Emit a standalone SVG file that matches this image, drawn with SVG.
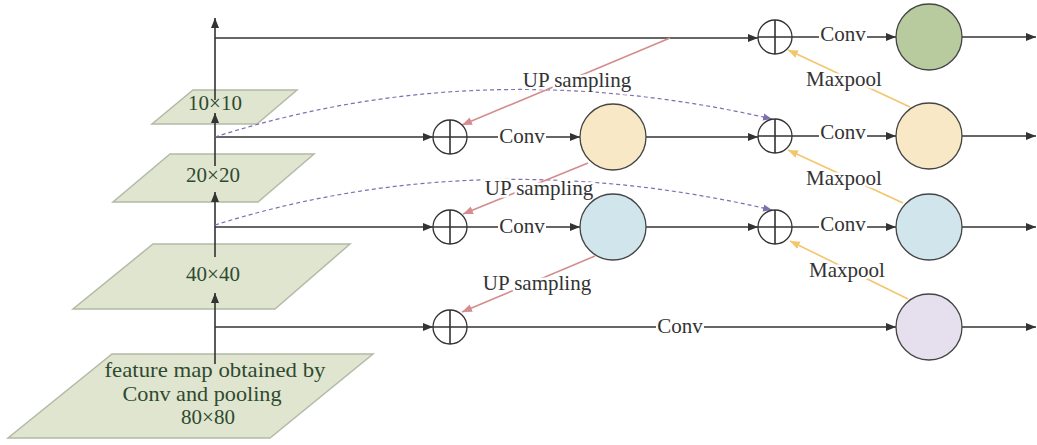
<svg xmlns="http://www.w3.org/2000/svg" width="1037" height="445" viewBox="0 0 1037 445">
<defs>
<style>
.pg{fill:#dfe5cf;stroke:#b3baa6;stroke-width:1.5}
.pt{font-family:"Liberation Serif",serif;font-size:21px;fill:#2f4a2f;text-anchor:middle}
.lb{font-family:"Liberation Serif",serif;font-size:21px;fill:#333;text-anchor:middle;stroke:#fff;stroke-width:5;paint-order:stroke;stroke-linejoin:round}
.cv{font-family:"Liberation Serif",serif;font-size:21px;fill:#333;text-anchor:middle}
.bg{fill:#fff}
.ln{stroke:#333;stroke-width:1.6;fill:none}
.up{stroke:#d48c8c;stroke-width:1.6;fill:none}
.mp{stroke:#f3c66e;stroke-width:1.6;fill:none}
.da{stroke:#7f6fb0;stroke-width:1.2;fill:none;stroke-dasharray:4 3}
.sum{fill:#fff;stroke:#333;stroke-width:1.3}
.nd{stroke:#444;stroke-width:1.3}
</style>
<marker id="ab" viewBox="0 0 10 10" refX="10" refY="5" markerWidth="10" markerHeight="10" markerUnits="userSpaceOnUse" orient="auto"><path d="M0,1 L10,5 L0,9 z" fill="#333"/></marker>
<marker id="ar" viewBox="0 0 10 10" refX="10" refY="5" markerWidth="10" markerHeight="10" markerUnits="userSpaceOnUse" orient="auto"><path d="M0,1 L10,5 L0,9 z" fill="#d48c8c"/></marker>
<marker id="ao" viewBox="0 0 10 10" refX="10" refY="5" markerWidth="10" markerHeight="10" markerUnits="userSpaceOnUse" orient="auto"><path d="M0,1 L10,5 L0,9 z" fill="#f3c66e"/></marker>
<marker id="ap" viewBox="0 0 10 10" refX="10" refY="5" markerWidth="9" markerHeight="9" markerUnits="userSpaceOnUse" orient="auto"><path d="M0,1 L10,5 L0,9 z" fill="#7f6fb0"/></marker>
</defs>
<rect width="1037" height="445" fill="#fff"/>

<g id="fm80"><polygon class="pg" points="112,354 373,354 270,438 8,438"/>
<text class="pt" x="215" y="377" textLength="221" lengthAdjust="spacingAndGlyphs">feature map obtained by</text>
<text class="pt" x="202" y="401" textLength="159" lengthAdjust="spacingAndGlyphs">Conv and pooling</text>
<text class="pt" x="208" y="424">80×80</text></g>
<g id="fm40"><polygon class="pg" points="153,244 350,244 275,309 73,309"/><text class="pt" x="213" y="281">40×40</text></g>
<g id="fm20"><polygon class="pg" points="170,154 314,154 258,202 113,202"/><text class="pt" x="213" y="182">20×20</text></g>
<g id="fm10"><polygon class="pg" points="193,90 297,90 257,124 152,124"/><text class="pt" x="215" y="110">10×10</text></g>

<g id="connectors">
<line class="ln" x1="215" y1="364" x2="215" y2="293" marker-end="url(#ab)"/>
<line class="ln" x1="215" y1="257" x2="215" y2="192" marker-end="url(#ab)"/>
<line class="ln" x1="215" y1="166" x2="215" y2="113" marker-end="url(#ab)"/>
<line class="ln" x1="215" y1="100" x2="215" y2="18" marker-end="url(#ab)"/>

<line class="ln" x1="215" y1="38" x2="758" y2="38" marker-end="url(#ab)"/>
<line class="ln" x1="215" y1="137" x2="433" y2="137" marker-end="url(#ab)"/>
<line class="ln" x1="215" y1="227" x2="433" y2="227" marker-end="url(#ab)"/>
<line class="ln" x1="215" y1="327" x2="433" y2="327" marker-end="url(#ab)"/>

<line class="ln" x1="467" y1="137" x2="580" y2="137" marker-end="url(#ab)"/>
<line class="ln" x1="467" y1="227" x2="580" y2="227" marker-end="url(#ab)"/>
<line class="ln" x1="467" y1="327" x2="896" y2="327" marker-end="url(#ab)"/>
<line class="ln" x1="646" y1="137" x2="758" y2="137" marker-end="url(#ab)"/>
<line class="ln" x1="646" y1="227" x2="758" y2="227" marker-end="url(#ab)"/>

<line class="ln" x1="792" y1="37" x2="896" y2="37" marker-end="url(#ab)"/>
<line class="ln" x1="792" y1="136" x2="896" y2="136" marker-end="url(#ab)"/>
<line class="ln" x1="792" y1="227" x2="896" y2="227" marker-end="url(#ab)"/>

<line class="ln" x1="962" y1="37" x2="1036" y2="37" marker-end="url(#ab)"/>
<line class="ln" x1="962" y1="136" x2="1036" y2="136" marker-end="url(#ab)"/>
<line class="ln" x1="962" y1="227" x2="1036" y2="227" marker-end="url(#ab)"/>
<line class="ln" x1="962" y1="327" x2="1036" y2="327" marker-end="url(#ab)"/>

<path class="da" d="M215,137 Q480,52 772,119" marker-end="url(#ap)"/>
<path class="da" d="M215,225 Q480,142 772,210" marker-end="url(#ap)"/>

<line class="up" x1="670" y1="38" x2="462" y2="125" marker-end="url(#ar)"/>
<line class="up" x1="588" y1="163" x2="463" y2="214" marker-end="url(#ar)"/>
<line class="up" x1="595" y1="256" x2="462" y2="312" marker-end="url(#ar)"/>

<line class="mp" x1="910" y1="107" x2="788" y2="50" marker-end="url(#ao)"/>
<line class="mp" x1="903" y1="203" x2="788" y2="150" marker-end="url(#ao)"/>
<line class="mp" x1="908" y1="299" x2="790" y2="241" marker-end="url(#ao)"/>

<text class="lb" x="577" y="87">UP sampling</text>
<text class="lb" x="539" y="195">UP sampling</text>
<text class="lb" x="537" y="290">UP sampling</text>
<text class="lb" x="844" y="86">Maxpool</text>
<text class="lb" x="844" y="185">Maxpool</text>
<text class="lb" x="847" y="277">Maxpool</text>

<rect class="bg" x="498" y="126" width="48" height="20"/><text class="cv" x="522" y="143">Conv</text>
<rect class="bg" x="498" y="216" width="48" height="20"/><text class="cv" x="522" y="233">Conv</text>
<rect class="bg" x="656" y="316" width="48" height="20"/><text class="cv" x="680" y="333">Conv</text>
<rect class="bg" x="819" y="26" width="48" height="20"/><text class="cv" x="843" y="41">Conv</text>
<rect class="bg" x="819" y="125" width="48" height="20"/><text class="cv" x="843" y="139">Conv</text>
<rect class="bg" x="819" y="216" width="48" height="20"/><text class="cv" x="843" y="231">Conv</text>
</g>

<g id="sum1r2"><circle class="sum" cx="450" cy="137" r="17"/><path class="ln" d="M433,137H467M450,120V154"/></g>
<g id="sum1r3"><circle class="sum" cx="450" cy="227" r="17"/><path class="ln" d="M433,227H467M450,210V244"/></g>
<g id="sum1r4"><circle class="sum" cx="450" cy="327" r="17"/><path class="ln" d="M433,327H467M450,310V344"/></g>
<g id="sum2r1"><circle class="sum" cx="775" cy="37" r="17"/><path class="ln" d="M758,37H792M775,20V54"/></g>
<g id="sum2r2"><circle class="sum" cx="775" cy="136" r="17"/><path class="ln" d="M758,136H792M775,119V153"/></g>
<g id="sum2r3"><circle class="sum" cx="775" cy="227" r="17"/><path class="ln" d="M758,227H792M775,210V244"/></g>

<g id="c1r2"><circle class="nd" cx="613" cy="137" r="33" fill="#f8e8c6"/></g>
<g id="c1r3"><circle class="nd" cx="613" cy="227" r="33" fill="#d0e6ec"/></g>
<g id="c2r1"><circle class="nd" cx="929" cy="37" r="33" fill="#b7cb9f"/></g>
<g id="c2r2"><circle class="nd" cx="929" cy="136" r="33" fill="#f8e8c6"/></g>
<g id="c2r3"><circle class="nd" cx="929" cy="227" r="33" fill="#d0e6ec"/></g>
<g id="c2r4"><circle class="nd" cx="929" cy="327" r="33" fill="#e6e0ee"/></g>
</svg>
